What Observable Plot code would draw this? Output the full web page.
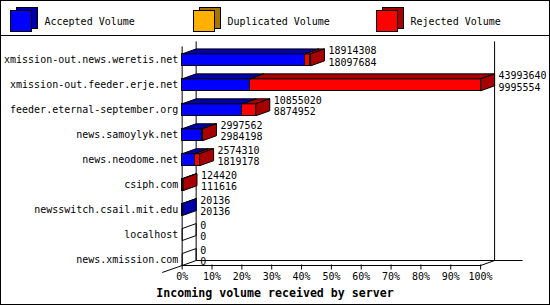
<!DOCTYPE html>
<html>
<head>
<meta charset="utf-8">
<script src="https://cdn.jsdelivr.net/npm/d3@7"></script>
<script src="https://cdn.jsdelivr.net/npm/@observablehq/plot@0.6"></script>
<style>
  html, body { margin: 0; padding: 0; background: #fff; }
  #chart { position: relative; width: 550px; height: 305px; box-sizing: border-box; border: 1px solid #000; overflow: hidden; background: #fff; font-family: "DejaVu Sans Mono", monospace; }
  #legend { position: absolute; left: -1px; top: -1px; }
  #sep { position: absolute; left: 0; top: 34px; width: 550px; height: 1px; background: #000; }
  #plot { position: absolute; left: -1px; top: -1px; }
  #title { position: absolute; left: -1px; width: 550px; top: 285px; text-align: center; font: bold 11.6px/14px "DejaVu Sans Mono", monospace; color: #000; white-space: pre; }
</style>
</head>
<body>
<div id="chart">
  <div id="plot"></div>
  <svg id="legend" width="550" height="35"></svg>
  <div id="sep"></div>
  <div id="title">Incoming volume received by server</div>
</div>
<script>
// ---- data ----
const hosts = [
  "xmission-out.news.weretis.net",
  "xmission-out.feeder.erje.net",
  "feeder.eternal-september.org",
  "news.samoylyk.net",
  "news.neodome.net",
  "csiph.com",
  "newsswitch.csail.mit.edu",
  "localhost",
  "news.xmission.com"
];
const totalVolume    = [18914308, 43993640, 10855020, 2997562, 2574310, 124420, 20136, 0, 0];
const acceptedVolume = [18097684,  9995554,  8874952, 2984198, 1819178, 111616, 20136, 0, 0];
const duplicatedVolume = [0, 0, 0, 0, 0, 0, 0, 0, 0];
const seriesNames = ["Accepted Volume", "Duplicated Volume", "Rejected Volume"];
const seriesColors = ["#0000ff", "#ffb000", "#ff0000"];
const seriesDark   = ["#0000a8", "#a87400", "#a80000"];
const xTicks = [0, 10, 20, 30, 40, 50, 60, 70, 80, 90, 100];

// ---- derived ----
const maxTotal = d3.max(totalVolume);
const pct = v => v / maxTotal * 100;
const rows = hosts.map((h, i) => {
  const a = pct(acceptedVolume[i]);
  const d = pct(duplicatedVolume[i]);
  const t = pct(totalVolume[i]);
  const segs = [
    {host: h, k: 0, x1: 0, x2: a},
    {host: h, k: 1, x1: a, x2: a + d},
    {host: h, k: 2, x1: a + d, x2: t}
  ].filter(s => s.x2 > s.x1);
  return {host: h, total: totalVolume[i], accepted: acceptedVolume[i], tot: t, segs};
});
const segs = rows.flatMap(r => r.segs);

const DX = 14, DY = 5;

// frame / 3D walls drawn with the plot's scales
function walls(index, scales, values, dims) {
  const x = scales.x, y = scales.y;
  const bw = y.bandwidth ? y.bandwidth() : 25;
  const X0 = x(0) + 0.5, X1 = x(100) + 0.5;
  const yFloor = y(hosts[hosts.length - 1]) + bw / 2 + 6 + 0.5;
  const yTop = dims.marginTop + 5.5;
  const g = d3.create("svg:g").attr("fill", "none").attr("stroke", "#000").attr("stroke-width", 1);
  const line = (pts) => g.append("polyline").attr("points", pts.map(p => p.join(",")).join(" "));
  line([[X0 + DX, yTop - DY], [X0 + DX, yFloor - DY], [X1 + DX + 28, yFloor - DY]]);
  line([[X1 + DX, yTop - DY], [X1 + DX, yFloor - DY]]);
  line([[X0, yTop], [X0, yFloor], [X1, yFloor], [X1 + DX, yFloor - DY]]);
  line([[X0, yFloor], [X0 - 20, yFloor + 7]]);
  return g.node();
}

function faces(index, scales) {
  const x = scales.x, y = scales.y;
  const bw = y.bandwidth ? y.bandwidth() : 25;
  const g = d3.create("svg:g").attr("stroke", "#000").attr("stroke-width", 1).attr("stroke-linejoin", "miter");
  const poly = (pts, fill) => g.append("polygon").attr("points", pts.map(p => p.join(",")).join(" ")).attr("fill", fill);
  for (const r of rows) {
    const c = y(r.host) + bw / 2 + 0.5;
    const top = c - 6, bot = c + 6;
    for (const s of r.segs) {
      const a = x(s.x1) + 0.5, b = x(s.x2) + 0.5;
      poly([[a, top], [b, top], [b + DX, top - DY], [a + DX, top - DY]], seriesDark[s.k]);
    }
    const X = x(r.tot) + 0.5;
    const last = r.segs[r.segs.length - 1];
    poly([[X, top], [X + DX, top - DY], [X + DX, bot - DY], [X, bot]], last ? seriesDark[last.k] : "none");
  }
  return g.node();
}

const bar = k => Plot.barX(segs.filter(s => s.k === k), {
  y: "host", x1: "x1", x2: "x2",
  fill: seriesColors[k], stroke: "#000", strokeWidth: 1,
  insetTop: 6.5, insetBottom: 6.5, shapeRendering: "crispEdges"
});

const plot = Plot.plot({
  width: 550,
  height: 305,
  marginLeft: 182,
  marginRight: 69,
  marginTop: 41,
  marginBottom: 40,
  style: {background: "transparent", fontFamily: "DejaVu Sans Mono", fontSize: "10px", color: "#000", overflow: "visible"},
  x: {domain: [0, 100], range: [182, 481], ticks: xTicks, tickFormat: d => d + "%", tickSize: 5, tickPadding: 3, label: null},
  y: {domain: hosts, range: [46.5, 271.5], padding: 0, tickSize: 0, tickPadding: 4, label: null},
  marks: [
    walls,
    bar(0), bar(1), bar(2),
    faces,
    Plot.text(rows, {x: "tot", y: "host", text: d => String(d.total), dx: 18, dy: -9, textAnchor: "start", fill: "#000"}),
    Plot.text(rows, {x: "tot", y: "host", text: d => String(d.accepted), dx: 18, dy: 2.5, textAnchor: "start", fill: "#000"})
  ]
});
document.getElementById("plot").appendChild(plot);

// ---- legend ----
const lg = d3.select("#legend");
const legendX = [10, 193, 376];
seriesNames.forEach((name, i) => {
  const x0 = legendX[i];
  const g = lg.append("g").attr("stroke", "#000").attr("stroke-width", 1);
  g.append("rect").attr("x", x0 + 6.5).attr("y", 7.5).attr("width", 21).attr("height", 21).attr("fill", seriesDark[i]);
  g.append("rect").attr("x", x0 + 0.5).attr("y", 10.5).attr("width", 21).attr("height", 21).attr("fill", seriesColors[i]);
  lg.append("text").attr("x", x0 + 34.5).attr("y", 24.5)
    .attr("font-family", "DejaVu Sans Mono").attr("font-size", 10).attr("fill", "#000").text(name);
});
</script>
</body>
</html>
